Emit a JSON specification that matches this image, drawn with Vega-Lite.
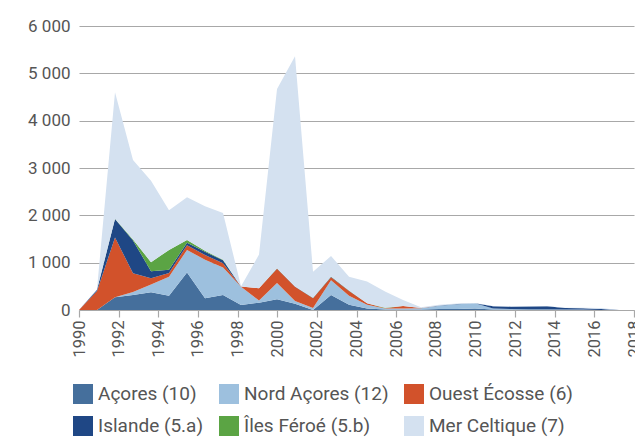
{
  "$schema": "https://vega.github.io/schema/vega-lite/v6.json",
  "width": 555,
  "height": 284,
  "autosize": {"type": "none"},
  "padding": {"left": 79, "top": 26, "right": 1, "bottom": 133},
  "background": "white",
  "config": {
    "view": {"stroke": null},
    "font": "Roboto",
    "axis": {"labelFont": "Roboto", "labelColor": "#555555", "labelFontSize": 16},
    "legend": {"labelFont": "Roboto", "labelColor": "#555555", "labelFontSize": 19}
  },
  "datasets": {
    "landings": [
      {"year":1990,"series":"Açores (10)","value":0},{"year":1990,"series":"Nord Açores (12)","value":0},{"year":1990,"series":"Ouest Écosse (6)","value":0},{"year":1990,"series":"Islande (5.a)","value":0},{"year":1990,"series":"Îles Féroé (5.b)","value":0},{"year":1990,"series":"Mer Celtique (7)","value":0},
      {"year":1991,"series":"Açores (10)","value":0},{"year":1991,"series":"Nord Açores (12)","value":0},{"year":1991,"series":"Ouest Écosse (6)","value":400},{"year":1991,"series":"Islande (5.a)","value":30},{"year":1991,"series":"Îles Féroé (5.b)","value":0},{"year":1991,"series":"Mer Celtique (7)","value":10},
      {"year":1992,"series":"Açores (10)","value":270},{"year":1992,"series":"Nord Açores (12)","value":0},{"year":1992,"series":"Ouest Écosse (6)","value":1260},{"year":1992,"series":"Islande (5.a)","value":390},{"year":1992,"series":"Îles Féroé (5.b)","value":10},{"year":1992,"series":"Mer Celtique (7)","value":2670},
      {"year":1993,"series":"Açores (10)","value":317},{"year":1993,"series":"Nord Açores (12)","value":63},{"year":1993,"series":"Ouest Écosse (6)","value":396},{"year":1993,"series":"Islande (5.a)","value":694},{"year":1993,"series":"Îles Féroé (5.b)","value":20},{"year":1993,"series":"Mer Celtique (7)","value":1680},
      {"year":1994,"series":"Açores (10)","value":374},{"year":1994,"series":"Nord Açores (12)","value":166},{"year":1994,"series":"Ouest Écosse (6)","value":130},{"year":1994,"series":"Islande (5.a)","value":150},{"year":1994,"series":"Îles Féroé (5.b)","value":190},{"year":1994,"series":"Mer Celtique (7)","value":1720},
      {"year":1995,"series":"Açores (10)","value":303},{"year":1995,"series":"Nord Açores (12)","value":397},{"year":1995,"series":"Ouest Écosse (6)","value":80},{"year":1995,"series":"Islande (5.a)","value":70},{"year":1995,"series":"Îles Féroé (5.b)","value":420},{"year":1995,"series":"Mer Celtique (7)","value":840},
      {"year":1996,"series":"Açores (10)","value":790},{"year":1996,"series":"Nord Açores (12)","value":480},{"year":1996,"series":"Ouest Écosse (6)","value":100},{"year":1996,"series":"Islande (5.a)","value":50},{"year":1996,"series":"Îles Féroé (5.b)","value":60},{"year":1996,"series":"Mer Celtique (7)","value":900},
      {"year":1997,"series":"Açores (10)","value":250},{"year":1997,"series":"Nord Açores (12)","value":810},{"year":1997,"series":"Ouest Écosse (6)","value":100},{"year":1997,"series":"Islande (5.a)","value":70},{"year":1997,"series":"Îles Féroé (5.b)","value":20},{"year":1997,"series":"Mer Celtique (7)","value":940},
      {"year":1998,"series":"Açores (10)","value":317},{"year":1998,"series":"Nord Açores (12)","value":583},{"year":1998,"series":"Ouest Écosse (6)","value":90},{"year":1998,"series":"Islande (5.a)","value":60},{"year":1998,"series":"Îles Féroé (5.b)","value":10},{"year":1998,"series":"Mer Celtique (7)","value":990},
      {"year":1999,"series":"Açores (10)","value":106},{"year":1999,"series":"Nord Açores (12)","value":384},{"year":1999,"series":"Ouest Écosse (6)","value":5},{"year":1999,"series":"Islande (5.a)","value":0},{"year":1999,"series":"Îles Féroé (5.b)","value":0},{"year":1999,"series":"Mer Celtique (7)","value":5},
      {"year":2000,"series":"Açores (10)","value":155},{"year":2000,"series":"Nord Açores (12)","value":45},{"year":2000,"series":"Ouest Écosse (6)","value":260},{"year":2000,"series":"Islande (5.a)","value":0},{"year":2000,"series":"Îles Féroé (5.b)","value":0},{"year":2000,"series":"Mer Celtique (7)","value":710},
      {"year":2001,"series":"Açores (10)","value":226},{"year":2001,"series":"Nord Açores (12)","value":344},{"year":2001,"series":"Ouest Écosse (6)","value":300},{"year":2001,"series":"Islande (5.a)","value":5},{"year":2001,"series":"Îles Féroé (5.b)","value":5},{"year":2001,"series":"Mer Celtique (7)","value":3790},
      {"year":2002,"series":"Açores (10)","value":130},{"year":2002,"series":"Nord Açores (12)","value":60},{"year":2002,"series":"Ouest Écosse (6)","value":303},{"year":2002,"series":"Islande (5.a)","value":2},{"year":2002,"series":"Îles Féroé (5.b)","value":0},{"year":2002,"series":"Mer Celtique (7)","value":4865},
      {"year":2003,"series":"Açores (10)","value":0},{"year":2003,"series":"Nord Açores (12)","value":40},{"year":2003,"series":"Ouest Écosse (6)","value":210},{"year":2003,"series":"Islande (5.a)","value":5},{"year":2003,"series":"Îles Féroé (5.b)","value":5},{"year":2003,"series":"Mer Celtique (7)","value":550},
      {"year":2004,"series":"Açores (10)","value":317},{"year":2004,"series":"Nord Açores (12)","value":313},{"year":2004,"series":"Ouest Écosse (6)","value":60},{"year":2004,"series":"Islande (5.a)","value":15},{"year":2004,"series":"Îles Féroé (5.b)","value":5},{"year":2004,"series":"Mer Celtique (7)","value":430},
      {"year":2005,"series":"Açores (10)","value":110},{"year":2005,"series":"Nord Açores (12)","value":190},{"year":2005,"series":"Ouest Écosse (6)","value":100},{"year":2005,"series":"Islande (5.a)","value":5},{"year":2005,"series":"Îles Féroé (5.b)","value":5},{"year":2005,"series":"Mer Celtique (7)","value":295},
      {"year":2006,"series":"Açores (10)","value":30},{"year":2006,"series":"Nord Açores (12)","value":80},{"year":2006,"series":"Ouest Écosse (6)","value":30},{"year":2006,"series":"Islande (5.a)","value":0},{"year":2006,"series":"Îles Féroé (5.b)","value":5},{"year":2006,"series":"Mer Celtique (7)","value":455},
      {"year":2007,"series":"Açores (10)","value":10},{"year":2007,"series":"Nord Açores (12)","value":20},{"year":2007,"series":"Ouest Écosse (6)","value":5},{"year":2007,"series":"Islande (5.a)","value":0},{"year":2007,"series":"Îles Féroé (5.b)","value":10},{"year":2007,"series":"Mer Celtique (7)","value":345},
      {"year":2008,"series":"Açores (10)","value":10},{"year":2008,"series":"Nord Açores (12)","value":20},{"year":2008,"series":"Ouest Écosse (6)","value":55},{"year":2008,"series":"Islande (5.a)","value":0},{"year":2008,"series":"Îles Féroé (5.b)","value":0},{"year":2008,"series":"Mer Celtique (7)","value":125},
      {"year":2009,"series":"Açores (10)","value":10},{"year":2009,"series":"Nord Açores (12)","value":25},{"year":2009,"series":"Ouest Écosse (6)","value":5},{"year":2009,"series":"Islande (5.a)","value":0},{"year":2009,"series":"Îles Féroé (5.b)","value":0},{"year":2009,"series":"Mer Celtique (7)","value":20},
      {"year":2010,"series":"Açores (10)","value":20},{"year":2010,"series":"Nord Açores (12)","value":70},{"year":2010,"series":"Ouest Écosse (6)","value":0},{"year":2010,"series":"Islande (5.a)","value":5},{"year":2010,"series":"Îles Féroé (5.b)","value":0},{"year":2010,"series":"Mer Celtique (7)","value":15},
      {"year":2011,"series":"Açores (10)","value":20},{"year":2011,"series":"Nord Açores (12)","value":100},{"year":2011,"series":"Ouest Écosse (6)","value":0},{"year":2011,"series":"Islande (5.a)","value":5},{"year":2011,"series":"Îles Féroé (5.b)","value":0},{"year":2011,"series":"Mer Celtique (7)","value":10},
      {"year":2012,"series":"Açores (10)","value":30},{"year":2012,"series":"Nord Açores (12)","value":110},{"year":2012,"series":"Ouest Écosse (6)","value":0},{"year":2012,"series":"Islande (5.a)","value":5},{"year":2012,"series":"Îles Féroé (5.b)","value":0},{"year":2012,"series":"Mer Celtique (7)","value":5},
      {"year":2013,"series":"Açores (10)","value":10},{"year":2013,"series":"Nord Açores (12)","value":20},{"year":2013,"series":"Ouest Écosse (6)","value":0},{"year":2013,"series":"Islande (5.a)","value":50},{"year":2013,"series":"Îles Féroé (5.b)","value":0},{"year":2013,"series":"Mer Celtique (7)","value":5},
      {"year":2014,"series":"Açores (10)","value":10},{"year":2014,"series":"Nord Açores (12)","value":10},{"year":2014,"series":"Ouest Écosse (6)","value":0},{"year":2014,"series":"Islande (5.a)","value":50},{"year":2014,"series":"Îles Féroé (5.b)","value":0},{"year":2014,"series":"Mer Celtique (7)","value":5},
      {"year":2015,"series":"Açores (10)","value":10},{"year":2015,"series":"Nord Açores (12)","value":5},{"year":2015,"series":"Ouest Écosse (6)","value":0},{"year":2015,"series":"Islande (5.a)","value":60},{"year":2015,"series":"Îles Féroé (5.b)","value":0},{"year":2015,"series":"Mer Celtique (7)","value":5},
      {"year":2016,"series":"Açores (10)","value":10},{"year":2016,"series":"Nord Açores (12)","value":5},{"year":2016,"series":"Ouest Écosse (6)","value":0},{"year":2016,"series":"Islande (5.a)","value":65},{"year":2016,"series":"Îles Féroé (5.b)","value":0},{"year":2016,"series":"Mer Celtique (7)","value":5},
      {"year":2017,"series":"Açores (10)","value":5},{"year":2017,"series":"Nord Açores (12)","value":5},{"year":2017,"series":"Ouest Écosse (6)","value":0},{"year":2017,"series":"Islande (5.a)","value":30},{"year":2017,"series":"Îles Féroé (5.b)","value":0},{"year":2017,"series":"Mer Celtique (7)","value":5},
      {"year":2018,"series":"Açores (10)","value":5},{"year":2018,"series":"Nord Açores (12)","value":5},{"year":2018,"series":"Ouest Écosse (6)","value":0},{"year":2018,"series":"Islande (5.a)","value":25},{"year":2018,"series":"Îles Féroé (5.b)","value":0},{"year":2018,"series":"Mer Celtique (7)","value":15},
      {"year":2019,"series":"Açores (10)","value":0},{"year":2019,"series":"Nord Açores (12)","value":0},{"year":2019,"series":"Ouest Écosse (6)","value":0},{"year":2019,"series":"Islande (5.a)","value":20},{"year":2019,"series":"Îles Féroé (5.b)","value":0},{"year":2019,"series":"Mer Celtique (7)","value":20},
      {"year":2020,"series":"Açores (10)","value":0},{"year":2020,"series":"Nord Açores (12)","value":0},{"year":2020,"series":"Ouest Écosse (6)","value":0},{"year":2020,"series":"Islande (5.a)","value":0},{"year":2020,"series":"Îles Féroé (5.b)","value":0},{"year":2020,"series":"Mer Celtique (7)","value":0}
    ],
    "axisyears": [{"year": 1990}, {"year": 2018}]
  },
  "layer": [
    {
      "data": {"name": "landings"},
      "transform": [
        {"calculate": "indexof(['Açores (10)','Nord Açores (12)','Ouest Écosse (6)','Islande (5.a)','Îles Féroé (5.b)','Mer Celtique (7)'], datum.series)", "as": "k"}
      ],
      "mark": {"type": "area", "interpolate": "linear", "opacity": 1},
      "encoding": {
        "x": {"field": "year", "type": "quantitative", "scale": {"domain": [1990, 2020.83], "nice": false, "zero": false}, "axis": null},
        "y": {
          "field": "value", "type": "quantitative", "stack": "zero",
          "scale": {"domain": [0, 6000], "nice": false},
          "axis": {
            "title": null, "values": [0, 1000, 2000, 3000, 4000, 5000, 6000],
            "format": ",d", "labelExpr": "replace(datum.label, ',', ' ')",
            "domain": false, "ticks": false, "grid": true, "gridColor": "#a8a8a8", "gridWidth": 1.2,
            "labelPadding": 9, "labelFontSize": 17
          }
        },
        "color": {
          "field": "series", "type": "nominal",
          "scale": {
            "domain": ["Açores (10)", "Nord Açores (12)", "Ouest Écosse (6)", "Islande (5.a)", "Îles Féroé (5.b)", "Mer Celtique (7)"],
            "range": ["#456f9c", "#9dc0de", "#d2522b", "#1f4785", "#5ba444", "#d4e1f0"]
          },
          "legend": {
            "title": null, "orient": "none", "legendX": -6, "legendY": 358,
            "direction": "horizontal", "columns": 3, "gridAlign": "none",
            "symbolType": "square", "symbolSize": 400, "symbolStrokeWidth": 0, "symbolOpacity": 1,
            "labelOffset": 5, "columnPadding": 15, "rowPadding": 12, "labelLimit": 300
          }
        },
        "order": {"field": "k", "type": "quantitative"}
      }
    },
    {
      "data": {"name": "axisyears"},
      "mark": {"type": "rule", "opacity": 0},
      "encoding": {
        "x": {
          "field": "year", "type": "quantitative",
          "scale": {"domain": [1990, 2018], "nice": false, "zero": false},
          "axis": {
            "orient": "bottom", "title": null,
            "values": [1990, 1992, 1994, 1996, 1998, 2000, 2002, 2004, 2006, 2008, 2010, 2012, 2014, 2016, 2018],
            "format": "d", "labelAngle": -90, "labelPadding": 3, "labelFontSize": 16.5,
            "domainColor": "#a8a8a8", "domainWidth": 1.2, "tickColor": "#a8a8a8", "tickWidth": 1.2, "tickSize": 7,
            "grid": false, "labelOverlap": false, "labelBound": false, "labelFlush": false
          }
        }
      }
    }
  ],
  "resolve": {"scale": {"x": "independent"}, "axis": {"x": "independent"}}
}
